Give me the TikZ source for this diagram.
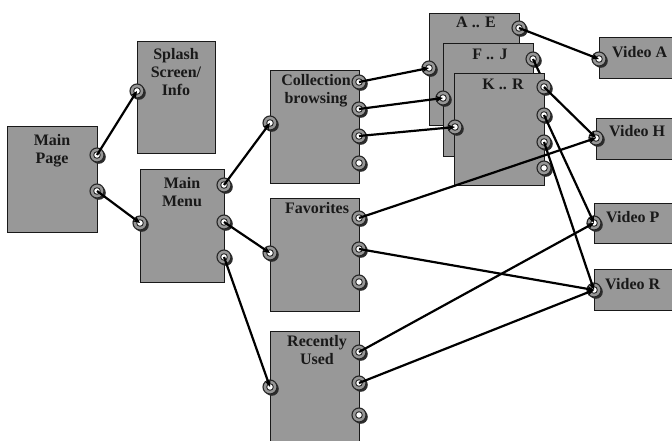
\documentclass[tikz,border=0pt]{standalone}
\usepackage{fontspec}
\setmainfont{Liberation Serif}
\usetikzlibrary{shadows,arrows.meta}
\definecolor{boxgray}{RGB}{152,152,152}
\definecolor{portgray}{RGB}{150,150,150}
\definecolor{shade}{RGB}{45,45,45}
\begin{document}
\begin{tikzpicture}[x=1pt,y=-1pt,
  box/.style={draw=black!90, fill=boxgray, line width=1.3pt, inner sep=0pt, anchor=north west},
  lbl/.style={font=\fontsize{16}{18}\selectfont\bfseries, text=black!90, inner sep=0pt, align=center, anchor=north},
  vlbl/.style={font=\fontsize{16}{18}\selectfont\bfseries, text=black!90, inner sep=0pt, anchor=north west},
  port/.style={circle, inner sep=0pt, minimum size=14pt, fill=portgray, draw=black!85, line width=1.1pt,
    drop shadow={shadow xshift=1.8pt, shadow yshift=-1.8pt, opacity=1, fill=shade},
    path picture={\fill[white, draw=black!85, line width=0.9pt] (path picture bounding box.center) circle[radius=3.3pt];}},
  link/.style={line width=2.2pt, -{Stealth[length=7pt,width=6pt]}},
  plain/.style={line width=2.2pt},
]
\useasboundingbox (0,0) rectangle (672,441);
\clip (0,0) rectangle (672,441);

% boxes (except K..R)
\node[box, minimum width=90pt, minimum height=106pt] (mpbox) at (7,126) {};
\node[box, minimum width=78pt, minimum height=112pt] (spbox) at (137,41) {};
\node[box, minimum width=84pt, minimum height=113pt] (mmbox) at (140,169) {};
\node[box, minimum width=89pt, minimum height=113pt] (cbbox) at (270,70) {};
\node[box, minimum width=89pt, minimum height=113pt] (fvbox) at (270,198) {};
\node[box, minimum width=89pt, minimum height=120pt] (rubox) at (270,331) {};
\node[box, minimum width=90pt, minimum height=112pt] (aebox) at (429,13) {};
\node[box, minimum width=90pt, minimum height=113pt] (fjbox) at (443,43) {};
\node[box, minimum width=80pt, minimum height=41pt] (vabox) at (599,37) {};
\node[box, minimum width=83pt, minimum height=41pt] (vhbox) at (596,118) {};
\node[box, minimum width=85pt, minimum height=40pt] (vpbox) at (594,203) {};
\node[box, minimum width=85pt, minimum height=41pt] (vrbox) at (594,269) {};

% labels
\node[lbl] (mpt) at (52,134) {Main\\Page};
\node[lbl] (spt) at (176,48) {Splash\\Screen/\\Info};
\node[lbl] (mmt) at (182,177) {Main\\Menu};
\node[lbl] (cbt) at (316,74) {Collection\\browsing};
\node[lbl] (fvt) at (317,202) {Favorites};
\node[lbl] (rut) at (317,335) {Recently\\Used};
\node[lbl] (aet) at (476,17) {A .. E};
\node[lbl] (fjt) at (490,49) {F .. J};
\node[vlbl] (vat) at (612,46) {Video A};
\node[vlbl] (vht) at (609,125) {Video H};
\node[vlbl] (vpt) at (606,211) {Video P};
\node[vlbl] (vrt) at (605,278) {Video R};

% ports
\node[port] (mp1) at (97,155) {};
\node[port] (mp2) at (97,191) {};
\node[port] (spin) at (137,91) {};
\node[port] (mmin) at (140,223) {};
\node[port] (mm1) at (224,185) {};
\node[port] (mm2) at (224,222) {};
\node[port] (mm3) at (224,257) {};
\node[port] (cbin) at (270,123) {};
\node[port] (cb1) at (359,82) {};
\node[port] (cb2) at (359,109) {};
\node[port] (cb3) at (359,136) {};
\node[port] (cb4) at (359,163) {};
\node[port] (fvin) at (270,253) {};
\node[port] (fv1) at (359,218) {};
\node[port] (fv2) at (359,249) {};
\node[port] (fv3) at (359,282) {};
\node[port] (ruin) at (270,387) {};
\node[port] (ru1) at (359,352) {};
\node[port] (ru2) at (359,383) {};
\node[port] (ru3) at (359,415) {};
\node[port] (aein) at (429,68) {};
\node[port] (aeout) at (519,28) {};
\node[port] (fjin) at (443,98) {};
\node[port] (fjout) at (533,59) {};
\node[port] (vain) at (599,59) {};
\node[port] (vhin) at (596,138) {};
\node[port] (vpin) at (594,223) {};
\node[port] (vrin) at (594,290) {};

% hidden connector under K..R
\coordinate (fjend) at (541,76);
\draw[plain] (fjout.center) -- (fjend);

% K..R box on top
\node[box, minimum width=90pt, minimum height=112pt] (krbox) at (454,73) {};
\node[lbl] (krt) at (503,79) {K .. R};
\node[port] (krin) at (455,127) {};
\node[port] (kr1) at (544,87) {};
\node[port] (kr2) at (544,115) {};
\node[port] (kr3) at (544,142) {};
\node[port] (kr4) at (544,168) {};

% connectors
\draw[link] (mp1.center) -- (spin.center);
\draw[link] (mp2.center) -- (mmin.center);
\draw[link] (mm1.center) -- (cbin.center);
\draw[link] (mm2.center) -- (fvin.center);
\draw[link] (mm3.center) -- (ruin.center);
\draw[link] (cb1.center) -- (aein.center);
\draw[link] (cb2.center) -- (fjin.center);
\draw[link] (cb3.center) -- (krin.center);
\draw[link] (aeout.center) -- (vain.center);
\draw[link] (kr1.center) -- (vhin.center);
\draw[link] (kr2.center) -- (vpin.center);
\draw[link] (kr3.center) -- (vrin.center);
\draw[link] (fv1.center) -- (vhin.center);
\draw[link] (fv2.center) -- (vrin.center);
\draw[link] (ru1.center) -- (vpin.center);
\draw[link] (ru2.center) -- (vrin.center);
\end{tikzpicture}
\end{document}
